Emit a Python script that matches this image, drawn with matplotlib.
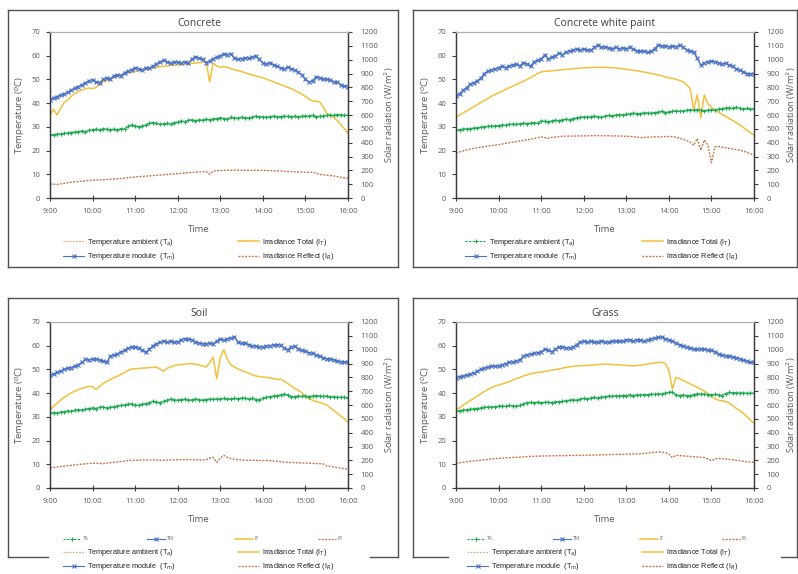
import numpy as np
import matplotlib
matplotlib.use("Agg")
import matplotlib.pyplot as plt
from matplotlib.lines import Line2D

# ---------------------------------------------------------------------------
# Time axis: 5-minute readings from 9:00 to 16:00
# ---------------------------------------------------------------------------
tick_hours = [9, 10, 11, 12, 13, 14, 15, 16]
tick_labels = ["9:00", "10:00", "11:00", "12:00", "13:00", "14:00", "15:00", "16:00"]
time_h = 9 + np.arange(85) * 5 / 60

panel_titles = ["Concrete", "Concrete white paint", "Soil", "Grass"]

# ---------------------------------------------------------------------------
# Concrete
# ---------------------------------------------------------------------------
concrete_tm = [
    41.5, 42.3, 42.8, 43.5, 44.0, 44.5, 45.5, 46.3, 47.0, 47.8, 48.5, 49.5,
    49.8, 49.0, 48.5, 50.0, 50.5, 50.3, 51.5, 52.0, 51.5, 52.8, 53.5, 54.0,
    55.0, 54.5, 54.0, 55.0, 54.8, 55.5, 56.5, 57.5, 58.0, 57.5, 56.8, 57.5,
    57.2, 56.8, 57.5, 57.0, 58.5, 59.5, 59.0, 58.5, 57.0, 57.8, 58.8, 59.5,
    60.0, 60.8, 60.5, 60.8, 59.0, 58.5, 58.8, 59.2, 59.0, 59.5, 59.8, 58.5,
    57.0, 56.5, 57.0, 56.2, 55.5, 55.0, 54.5, 55.2, 54.5, 54.0, 53.0, 52.0,
    50.0, 48.8, 49.5, 51.0, 50.8, 50.2, 50.0, 49.8, 49.0, 48.8, 47.8, 47.2,
    47.0]
concrete_ta = [
    26.5, 26.7, 26.9, 27.0, 27.2, 27.4, 27.6, 27.8, 28.0, 28.3, 28.0, 28.5,
    28.8, 29.0, 28.7, 29.2, 29.0, 28.8, 29.0, 28.7, 29.3, 29.0, 30.2, 30.8,
    30.5, 30.0, 30.3, 30.8, 31.5, 31.8, 31.5, 31.0, 31.3, 31.5, 31.0, 31.8,
    32.0, 32.5, 32.2, 32.8, 33.0, 32.5, 33.0, 32.8, 33.2, 33.0, 33.3, 33.5,
    33.8, 33.5, 33.2, 34.0, 33.8, 33.6, 34.0, 33.8, 33.8, 34.0, 34.5, 34.2,
    34.2, 34.0, 34.3, 34.5, 34.2, 34.3, 34.5, 34.4, 34.3, 34.5, 34.2, 34.5,
    34.6, 34.5, 34.8, 34.2, 34.5, 34.5, 34.8, 35.0, 34.8, 35.2, 35.0, 34.8,
    35.0]
concrete_it = [
    600, 640, 600, 650, 690, 710, 735, 755, 770, 780, 790, 795,
    790, 800, 820, 840, 850, 860, 870, 880, 890, 900, 905, 910,
    915, 920, 925, 930, 935, 940, 945, 950, 952, 955, 958, 960,
    962, 965, 968, 970, 973, 976, 978, 982, 985, 840, 975, 955,
    945, 950, 945, 935, 928, 920, 915, 905, 897, 890, 882, 875,
    868, 860, 850, 840, 830, 820, 810, 800, 790, 778, 765, 750,
    735, 715, 700, 700, 695, 660, 610, 595, 580, 560, 530, 500,
    470]
concrete_ir = [
    100, 100, 97, 103, 106, 110, 115, 117, 119, 121, 124, 127,
    129, 130, 131, 132, 134, 136, 137, 139, 141, 144, 147, 150,
    152, 154, 156, 158, 160, 162, 164, 166, 168, 170, 172, 174,
    176, 178, 181, 183, 185, 187, 188, 190, 192, 172, 195, 197,
    199, 200, 201, 201, 201, 201, 201, 200, 200, 200, 200, 200,
    200, 199, 198, 197, 196, 195, 194, 192, 190, 189, 188, 187,
    186, 186, 186, 180, 170, 168, 165, 162, 159, 155, 150, 145,
    142]

# ---------------------------------------------------------------------------
# Concrete white paint
# ---------------------------------------------------------------------------
white_tm = [
    43.0, 44.0, 45.5, 46.5, 48.0, 48.5, 49.5, 50.5, 52.5, 53.5, 54.0, 54.5,
    55.0, 55.5, 55.0, 55.8, 56.0, 56.3, 55.8, 57.0, 56.5, 55.5, 57.5, 58.0,
    58.5, 60.5, 58.5, 59.5, 60.0, 61.0, 60.5, 61.5, 62.0, 62.5, 62.8, 62.5,
    62.8, 62.5, 62.3, 63.5, 64.5, 63.5, 63.8, 63.2, 63.0, 63.5, 63.0, 63.2,
    63.0, 63.5, 62.8, 62.0, 61.8, 62.0, 61.5, 61.8, 63.0, 64.5, 64.0, 64.2,
    63.8, 64.0, 63.8, 64.5, 63.5, 62.5, 62.0, 61.5, 59.0, 56.0, 57.0, 57.5,
    57.8, 57.5, 57.0, 56.5, 56.8, 56.0, 55.5, 54.5, 54.0, 53.2, 52.5, 52.3,
    52.3]
white_ta = [
    28.5, 28.8, 29.0, 29.2, 29.2, 29.5, 29.6, 29.8, 30.0, 30.2, 30.3, 30.4,
    30.5, 30.8, 30.6, 31.0, 31.2, 31.0, 31.3, 31.5, 31.4, 31.6, 31.8, 31.5,
    32.5, 32.3, 32.0, 32.5, 32.8, 32.6, 33.0, 33.2, 33.0, 33.5, 33.8, 34.0,
    34.2, 34.0, 34.3, 34.5, 34.2, 34.0, 34.5, 34.8, 34.6, 35.0, 35.2, 35.0,
    35.3, 35.5, 35.8, 35.6, 35.5, 36.0, 35.8, 35.7, 36.0, 36.2, 36.5, 36.0,
    36.3, 36.5, 36.8, 36.5, 36.6, 37.0, 37.2, 37.0, 37.3, 37.0, 36.8, 37.0,
    37.2, 37.0, 37.5, 37.6, 38.0, 38.0, 37.8, 38.2, 37.8, 37.5, 37.8, 37.5,
    37.6]
white_it = [
    585, 600, 615, 630, 645, 660, 675, 690, 705, 720, 735, 748,
    760, 772, 785, 797, 808, 820, 832, 845, 857, 870, 885, 900,
    912, 915, 917, 920, 922, 925, 928, 930, 932, 935, 937, 939,
    940, 942, 943, 944, 945, 945, 944, 943, 942, 940, 937, 934,
    930, 927, 923, 919, 915, 910, 905, 900, 895, 890, 883, 875,
    868, 865, 858, 850, 840, 820, 790, 640, 745, 580, 745, 680,
    655, 635, 620, 605, 590, 575, 560, 545, 530, 510, 490, 470,
    455]
white_ir = [
    325, 333, 340, 347, 353, 358, 363, 367, 371, 375, 379, 382,
    385, 390, 395, 400, 404, 408, 412, 416, 420, 425, 430, 436,
    443, 436, 432, 438, 440, 444, 446, 447, 448, 448, 448, 449,
    449, 450, 450, 451, 451, 450, 450, 450, 449, 449, 448, 447,
    446, 445, 443, 440, 436, 438, 440, 441, 442, 442, 442, 444,
    445, 443, 440, 432, 425, 415, 405, 380, 430, 345, 420, 380,
    255, 370, 372, 368, 363, 358, 354, 350, 345, 340, 330, 320,
    310]

# ---------------------------------------------------------------------------
# Soil
# ---------------------------------------------------------------------------
soil_tm = [
    47.5, 48.0, 48.8, 49.3, 50.0, 50.5, 50.8, 51.5, 52.0, 53.0, 54.2, 54.0,
    54.5, 54.3, 54.0, 53.5, 53.0, 55.5, 56.2, 56.5, 57.5, 58.0, 59.0, 59.5,
    59.5, 59.0, 58.0, 57.2, 58.5, 60.0, 60.8, 61.5, 62.0, 61.5, 61.8, 61.5,
    61.5, 62.5, 63.0, 62.8, 62.5, 61.5, 61.0, 60.8, 60.8, 61.0, 60.8, 62.0,
    62.8, 62.5, 63.0, 63.2, 63.7, 61.5, 61.0, 61.2, 60.5, 60.0, 59.8, 59.5,
    59.5, 59.8, 60.0, 60.3, 60.5, 60.2, 59.0, 58.3, 59.5, 59.7, 58.5, 58.0,
    57.8, 57.0, 56.8, 56.0, 55.5, 55.0, 54.5, 54.3, 54.0, 53.5, 53.3, 53.0,
    53.0]
soil_ta = [
    31.5, 31.8, 31.6, 32.0, 32.2, 32.5, 32.3, 32.8, 33.0, 32.8, 33.2, 33.5,
    33.8, 33.5, 34.0, 34.2, 33.8, 34.0, 34.3, 34.5, 34.8, 35.0, 35.3, 35.5,
    35.0, 34.8, 35.3, 35.5, 36.0, 36.5, 36.3, 36.0, 36.5, 37.0, 37.5, 37.2,
    37.0, 37.3, 37.5, 37.0, 37.2, 37.5, 37.3, 37.0, 37.3, 37.5, 37.4, 37.6,
    37.5, 37.8, 37.6, 37.5, 37.8, 37.6, 38.0, 37.8, 37.5, 37.8, 37.3, 37.2,
    37.8, 38.2, 38.5, 38.8, 39.0, 39.2, 39.6, 39.2, 38.5, 38.5, 38.8, 38.6,
    38.8, 38.5, 38.8, 39.0, 38.8, 38.6, 38.8, 38.4, 38.5, 38.2, 38.3, 38.2,
    38.0]
soil_it = [
    565, 590, 612, 635, 655, 672, 688, 700, 712, 720, 728, 734,
    732, 712, 735, 755, 770, 785, 797, 808, 820, 835, 850, 860,
    862, 864, 866, 868, 870, 872, 874, 860, 845, 865, 875, 885,
    890, 893, 896, 898, 898, 895, 890, 882, 875, 905, 945, 790,
    940, 1000, 930, 890, 875, 860, 850, 840, 830, 818, 810, 805,
    802, 800, 796, 790, 784, 787, 772, 755, 738, 720, 705, 690,
    660, 645, 635, 625, 618, 610, 600, 580, 560, 540, 520, 500,
    475]
soil_ir = [
    145, 148, 152, 155, 158, 161, 164, 167, 170, 172, 175, 177,
    179, 180, 178, 176, 180, 183, 186, 189, 192, 195, 198, 200,
    200, 201, 202, 202, 203, 203, 202, 200, 201, 202, 203, 203,
    204, 205, 205, 206, 205, 204, 203, 203, 205, 215, 222, 185,
    215, 236, 222, 212, 208, 205, 203, 201, 200, 200, 200, 199,
    198, 199, 197, 195, 193, 190, 188, 186, 184, 183, 182, 181,
    180, 179, 178, 177, 176, 174, 160, 155, 152, 148, 144, 140,
    137]

# ---------------------------------------------------------------------------
# Grass
# ---------------------------------------------------------------------------
grass_tm = [
    46.5, 47.0, 47.3, 47.5, 48.0, 48.5, 49.2, 50.0, 50.5, 51.0, 51.5, 51.3,
    51.5, 52.0, 52.5, 53.0, 53.2, 53.5, 54.0, 55.5, 56.2, 56.5, 56.8, 57.0,
    57.5, 58.5, 58.0, 57.5, 58.5, 59.5, 59.4, 59.2, 59.0, 59.5, 60.5, 61.5,
    61.8, 61.5, 61.8, 61.6, 61.5, 62.0, 61.6, 61.5, 61.8, 62.0, 61.8, 62.0,
    62.3, 62.5, 62.0, 62.5, 62.3, 62.0, 62.5, 63.0, 63.2, 63.5, 63.7, 63.0,
    62.5, 62.0, 61.0, 60.5, 60.0, 59.4, 59.0, 58.7, 58.5, 58.6, 58.5, 58.3,
    58.0, 57.5, 56.5, 56.2, 55.8, 55.5, 55.3, 55.0, 54.5, 54.0, 53.5, 53.0,
    53.0]
grass_ta = [
    32.3, 32.6, 32.8, 33.0, 33.2, 33.4, 33.5, 33.8, 34.0, 34.2, 34.0, 34.3,
    34.5, 34.6, 34.4, 34.8, 34.6, 34.5, 34.8, 35.5, 36.0, 36.1, 36.0, 36.2,
    36.0, 36.1, 36.2, 36.0, 36.3, 36.4, 36.5, 36.8, 37.0, 37.2, 37.0, 37.5,
    37.8, 37.5, 38.0, 38.2, 38.0, 38.3, 38.5, 38.8, 38.6, 38.9, 38.8, 39.0,
    39.0, 39.2, 39.0, 39.3, 39.2, 39.4, 39.3, 39.6, 39.5, 39.7, 39.6, 40.0,
    40.3, 40.5, 39.3, 39.0, 39.2, 38.9, 39.0, 39.4, 39.7, 39.6, 39.5, 39.4,
    39.3, 39.5, 39.3, 39.0, 39.8, 40.3, 40.1, 40.2, 40.0, 40.1, 39.9, 40.0,
    40.0]
grass_it = [
    565, 580, 598, 615, 632, 648, 665, 682, 698, 712, 725, 738,
    745, 752, 760, 768, 780, 792, 800, 810, 818, 825, 830, 835,
    838, 842, 848, 852, 856, 860, 866, 872, 876, 880, 882, 884,
    885, 886, 888, 890, 892, 894, 896, 895, 893, 892, 890, 888,
    886, 884, 883, 885, 888, 892, 896, 900, 904, 907, 910, 900,
    850, 715, 800, 790, 778, 765, 752, 740, 728, 715, 700, 685,
    665, 645, 635, 630, 625, 615, 595, 575, 560, 540, 515, 490,
    468]
grass_ir = [
    178, 182, 186, 190, 193, 196, 199, 201, 204, 207, 210, 212,
    214, 216, 218, 219, 221, 222, 223, 225, 226, 228, 229, 230,
    231, 232, 232, 233, 233, 234, 234, 235, 235, 236, 236, 236,
    237, 237, 238, 238, 239, 240, 240, 241, 242, 242, 243, 243,
    244, 245, 246, 247, 248, 250, 252, 255, 258, 260, 259, 256,
    245, 220, 236, 234, 232, 230, 228, 226, 224, 222, 220, 210,
    198, 210, 214, 212, 210, 207, 204, 200, 197, 193, 190, 188,
    185]

# ---------------------------------------------------------------------------
# Styling
# ---------------------------------------------------------------------------
TM_COLOR = "#4A72C6"
TA_COLOR = "#22AA55"
IT_COLOR = "#F2C03C"
IR_COLOR = "#C47548"
TA_LEG_COLOR = "#E3AD80"
AXIS_COLOR = "#3C3C3C"
TEXT_COLOR = "#595959"
BOX_COLOR = "#505050"
AXIS_FONT = "Open Sans"
LEG_FONT = "Liberation Sans"

W, H = 798, 574
fig = plt.figure(figsize=(W / 100, H / 100), dpi=100)
fig.patch.set_facecolor("white")


def fx(px):
    return px / W


def fy(py):
    return 1 - py / H


def draw_box(x0, y0, x1, y1, gap=None):
    """Panel frame in pixel coordinates; an optional gap in the bottom edge."""
    kw = dict(color=BOX_COLOR, lw=1.0, transform=fig.transFigure)
    fig.add_artist(Line2D([fx(x0), fx(x1)], [fy(y0), fy(y0)], **kw))
    fig.add_artist(Line2D([fx(x0), fx(x0)], [fy(y0), fy(y1)], **kw))
    fig.add_artist(Line2D([fx(x1), fx(x1)], [fy(y0), fy(y1)], **kw))
    if gap is None:
        fig.add_artist(Line2D([fx(x0), fx(x1)], [fy(y1), fy(y1)], **kw))
    else:
        fig.add_artist(Line2D([fx(x0), fx(gap[0])], [fy(y1), fy(y1)], **kw))
        fig.add_artist(Line2D([fx(gap[1]), fx(x1)], [fy(y1), fy(y1)], **kw))


def draw_panel(left, top, title, tm, ta, it, ir, right_label_x=1.117):
    width, height = 298, 166
    ax = fig.add_axes([fx(left), fy(top + height), width / W, height / H])
    ax2 = ax.twinx()
    ax.set_zorder(ax2.get_zorder() + 1)
    ax.patch.set_visible(False)

    ax2.plot(time_h, it, color=IT_COLOR, lw=1.1)
    ax2.plot(time_h, ir, color=IR_COLOR, lw=1.0, ls=(0, (1.4, 1.0)))
    ax.plot(time_h, ta, color=TA_COLOR, lw=0.9, marker="+", ms=3.2, mew=0.85)
    ax.plot(time_h, tm, color=TM_COLOR, lw=1.0, marker="x", ms=2.8, mew=0.85)

    ax.set_xlim(9, 16)
    ax.set_ylim(0, 70)
    ax2.set_ylim(0, 1200)
    ax.set_yticks(range(0, 71, 10))
    ax2.set_yticks(range(0, 1201, 100))
    ax.set_xticks(tick_hours, tick_labels)

    for a in (ax, ax2):
        for side in ("left", "right", "bottom"):
            a.spines[side].set_color(AXIS_COLOR)
            a.spines[side].set_linewidth(0.9)
        a.spines["top"].set_color("#B0B0B0")
        a.spines["top"].set_linewidth(0.8)

    ax.tick_params(axis="y", direction="out", length=3, width=0.8, color=AXIS_COLOR,
                   labelcolor=TEXT_COLOR, labelsize=5.5, pad=4)
    ax.tick_params(axis="x", direction="inout", length=5, width=0.8, color=AXIS_COLOR,
                   labelcolor=TEXT_COLOR, labelsize=5.5, pad=5)
    ax2.tick_params(axis="y", direction="out", length=3, width=0.8, color=AXIS_COLOR,
                    labelcolor=TEXT_COLOR, labelsize=5.5, pad=6)
    for lab in ax.get_xticklabels() + ax.get_yticklabels() + ax2.get_yticklabels():
        lab.set_fontfamily(AXIS_FONT)

    ax.set_title(title, fontsize=7.5, color="#404040", pad=4, fontfamily=AXIS_FONT)
    ax.set_xlabel("Time", fontsize=6.8, color=TEXT_COLOR, fontfamily=AXIS_FONT)
    ax.xaxis.set_label_coords(0.5, -0.16)
    ax.set_ylabel("Temperature ($^{o}$C)", fontsize=6.8, color=TEXT_COLOR,
                  fontfamily=AXIS_FONT)
    ax.yaxis.set_label_coords(-0.078, 0.5)
    ax2.set_ylabel("Solar radiation (W/m$^{2}$)", fontsize=6.6, color=TEXT_COLOR,
                   fontfamily=AXIS_FONT)
    ax2.yaxis.set_label_coords(right_label_x, 0.5)
    return ax, ax2


def legend_entry(handle, label, x_px, y_px, size=5.3, color="#222222", hlen=2.9):
    fig.legend(handles=[handle], labels=[label], loc="center left",
               bbox_to_anchor=(fx(x_px), fy(y_px)), frameon=False,
               borderpad=0, borderaxespad=0, handlelength=hlen,
               handletextpad=0.35, prop={"family": LEG_FONT, "size": size},
               labelcolor=color)


h_ta_plain = Line2D([], [], color=TA_LEG_COLOR, lw=0.9, ls=(0, (1.5, 1.0)))
h_ta_mark = Line2D([], [], color=TA_COLOR, lw=0.8, ls=(0, (2, 1.2)), marker="+",
                   ms=3.2, mew=0.8)
h_tm = Line2D([], [], color=TM_COLOR, lw=0.8, marker="x", ms=2.8, mew=0.8)
h_it = Line2D([], [], color=IT_COLOR, lw=1.1)
h_ir = Line2D([], [], color=IR_COLOR, lw=1.0, ls=(0, (1.4, 1.0)))

lab_ta = "Temperature ambient (T$_a$)"
lab_tm = "Temperature module  (T$_m$)"
lab_it = "Irradiance Total (I$_T$)"
lab_ir = "Irradiance Reflect (I$_R$)"

# Frames around the four panels
draw_box(8, 10, 398, 267)
draw_box(413, 10, 797, 267)
draw_box(8, 298, 398, 557, gap=(48, 370))
draw_box(413, 298, 797, 557, gap=(448, 781))

draw_panel(50, 32, panel_titles[0], concrete_tm, concrete_ta, concrete_it, concrete_ir)
draw_panel(456, 32, panel_titles[1], white_tm, white_ta, white_it, white_ir,
           right_label_x=1.104)
draw_panel(50, 322, panel_titles[2], soil_tm, soil_ta, soil_it, soil_ir)
draw_panel(456, 322, panel_titles[3], grass_tm, grass_ta, grass_it, grass_ir,
           right_label_x=1.104)

# Legends of the upper panels
legend_entry(h_ta_plain, lab_ta, 63, 242)
legend_entry(h_tm, lab_tm, 63, 257)
legend_entry(h_it, lab_it, 238, 242)
legend_entry(h_ir, lab_ir, 238, 257)

legend_entry(h_ta_mark, lab_ta, 465, 242)
legend_entry(h_tm, lab_tm, 465, 257)
legend_entry(h_it, lab_it, 642, 242)
legend_entry(h_ir, lab_ir, 642, 257)

# Legends of the lower panels: short series names, then the full names
for x0, xs in ((63, (63, 147, 235, 318)), (467, (467, 553, 640, 722))):
    for h, lab, xp in zip((h_ta_mark, h_tm, h_it, h_ir), ("TA", "TM", "IT", "IR"), xs):
        legend_entry(h, lab, xp, 539, size=3.6, color="#777777", hlen=3.6)
    legend_entry(h_ta_plain, lab_ta, x0, 553)
    legend_entry(h_tm, lab_tm, x0, 567)
    legend_entry(h_it, lab_it, x0 + 175, 553)
    legend_entry(h_ir, lab_ir, x0 + 175, 567)

fig.savefig("out.png", dpi=100)
